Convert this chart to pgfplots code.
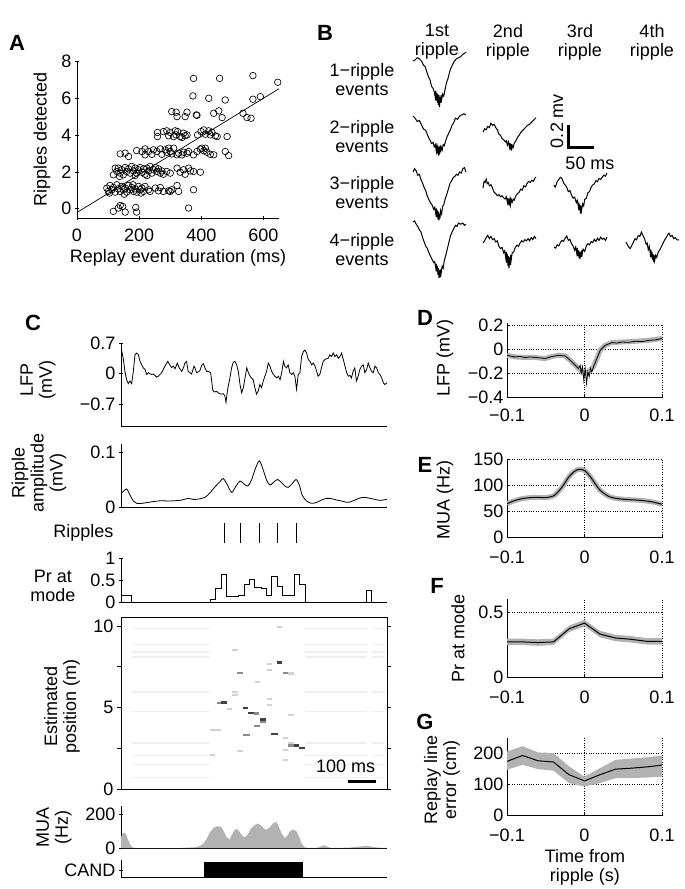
\documentclass[border=0pt]{standalone}
\usepackage{pgfplots}
\pgfplotsset{compat=1.18}
\usepackage{fontspec}
\setmainfont{Liberation Sans}
\newcommand\fs{\fontsize{18}{19}\selectfont}
\pgfplotsset{
  base/.style={scale only axis, tick label style={font=\fs}, label style={font=\fs, align=center}, axis line style={line width=0.6pt,-}, tick style={line width=0.6pt, black}},
  outtick/.style={tick align=outside, major tick length=4pt},
  wave/.style={scale only axis, hide axis, width=53pt, height=88pt, xmin=-50, xmax=50, ymin=-0.6, ymax=0.2, anchor=north west, clip=false},
  cax/.style={base, outtick, width=266pt, xmin=0, xmax=950, xtick=\empty, axis lines=left, axis line style={-}, anchor=south west},
  rax/.style={base, width=155pt, xmin=-0.1, xmax=0.1, xtick={-0.1,0,0.1}, xticklabels={−0.1,0,0.1}, axis lines=left, axis line style={-}, grid=major, grid style={dotted, line width=0.7pt, black}, tick align=inside, major tick length=3pt, anchor=south west},
}
\begin{document}
\begin{tikzpicture}[x=1pt,y=1pt]
\useasboundingbox (0,0) rectangle (685,-889);
% panel letters
\begin{scope}[font=\bfseries\fontsize{22}{24}\selectfont]
\node at (17,-43) {A};
\node at (325,-33) {B};
\node at (33,-323) {C};
\node at (425,-318) {D};
\node at (425,-465) {E};
\node at (437,-586) {F};
\node at (425,-722) {G};
\end{scope}

% ---------------- A ----------------
\begin{axis}[base, outtick, at={(77pt,-218pt)}, anchor=south west, width=202pt, height=157pt,
  xmin=0, xmax=650, ymin=-0.5, ymax=8, axis lines=left, axis line style={-},
  xtick={0,200,400,600}, xticklabels={0,200,400,600}, ytick={0,2,4,6,8}, yticklabels={0,2,4,6,8},
  xticklabel style={yshift=-5pt},
  xlabel={Replay event duration (ms)}, ylabel={Ripples detected},
  xlabel style={at={(axis description cs:0.5,-0.255)}, anchor=center},
  ylabel style={at={(axis description cs:-0.173,0.503)}, anchor=center}]
\addplot[only marks, mark=o, mark size=3.3pt, mark options={line width=0.65pt}, black] table {
x y
375 7.06
459 7.06
566 7.21
646 6.85
373 6.11
424 5.98
477 5.89
566 5.93
590 6.07
305 5.26
319 5.23
322 4.99
348 4.99
354 5.23
384 5.08
386 5.06
440 5.17
456 5.30
467 4.94
534 5.17
547 4.94
560 4.90
259 4.13
259 3.91
278 4.18
289 4.22
295 3.95
300 4.13
311 3.91
316 4.22
319 4.0
324 4.18
332 3.91
338 3.86
343 4.09
348 3.96
354 4.0
388 4.0
399 4.18
408 4.27
413 4.04
424 4.22
429 4.0
434 4.14
445 3.95
451 3.91
483 3.91
139 2.97
155 3.01
166 2.83
192 3.15
209 3.10
219 3.24
230 3.10
219 2.92
241 2.95
246 3.19
257 3.10
268 3.24
273 2.95
284 3.19
289 3.06
295 3.28
300 3.10
305 2.97
311 3.28
322 2.92
327 3.01
338 2.92
343 3.06
354 3.01
359 3.10
375 2.92
386 3.10
397 3.23
402 3.28
408 3.14
413 3.28
418 3.06
429 2.95
440 2.92
477 3.10
488 2.88
117 1.84
128 2.02
133 2.20
139 1.93
144 2.11
149 1.84
155 2.23
160 2.02
166 2.16
171 1.93
176 2.29
182 2.05
187 2.20
192 1.93
198 2.11
203 2.23
209 1.98
214 2.16
219 1.87
225 2.20
230 2.05
235 2.29
241 1.93
246 2.11
252 2.23
257 2.02
262 2.16
268 1.93
273 2.05
278 1.87
289 2.02
300 1.93
322 2.20
332 1.98
343 2.11
348 1.87
359 2.20
365 2.05
375 2.02
397 1.98
123 2.20
137 1.75
187 1.80
225 1.80
96 1.12
101 0.94
106 1.26
112 1.03
117 1.15
123 0.90
128 1.30
133 1.08
139 0.94
144 1.21
149 1.03
155 1.12
160 0.90
166 1.26
171 1.03
176 1.15
182 0.94
187 1.08
192 0.90
198 1.21
203 1.03
209 1.12
214 0.94
219 1.21
230 1.03
235 0.94
252 1.12
262 0.97
268 1.15
278 0.94
295 0.97
300 0.94
305 1.03
322 1.26
327 0.94
375 1.03
104 0.85
152 0.79
180 1.30
206 0.85
117 -0.14
133 0.04
139 0.18
147 0.13
155 -0.18
189 0.07
192 -0.18
359 0.04
};
\addplot[black, line width=0.7pt] coordinates {(0,-0.2) (650,6.5)};
\end{axis}

% ---------------- B ----------------
\begin{scope}[font=\fs]
\node[align=center] at (437,-42) {1st\\ripple};
\node[align=center] at (508,-42) {2nd\\ripple};
\node[align=center] at (580,-42) {3rd\\ripple};
\node[align=center] at (652,-42) {4th\\ripple};
\node[align=center] at (362,-80) {1−ripple\\events};
\node[align=center] at (362,-137) {2−ripple\\events};
\node[align=center] at (362,-193) {3−ripple\\events};
\node[align=center] at (362,-250) {4−ripple\\events};
\node[rotate=90] at (557,-121) {0.2 mv};
\node at (590,-163) {50 ms};
\end{scope}
\draw[line width=3pt] (568,-125) -- (568,-147) -- (594,-147);

% R1C1
\begin{axis}[wave, at={(413pt,-39pt)}]
\addplot[black, line width=1pt] coordinates {(-50,0) (-46,0.01) (-42,0.03) (-38,0.02) (-34,0.0) (-30,-0.04) (-27,-0.05) (-24,-0.10) (-21,-0.14) (-18,-0.17) (-15,-0.23) (-12,-0.25) (-10,-0.28) (-8,-0.33) (-7,-0.27) (-6,-0.36) (-5,-0.29) (-4,-0.38) (-3,-0.30) (-2,-0.40) (-1,-0.31) (0,-0.42) (1,-0.33) (2,-0.38) (3,-0.31) (4,-0.35) (6,-0.30) (8,-0.32) (10,-0.27) (13,-0.20) (16,-0.16) (19,-0.10) (22,-0.06) (25,-0.03) (28,0.0) (32,0.02) (36,0.03) (40,0.04) (44,0.06) (47,0.07) (50,0.08)};
\end{axis}
% R2C1
\begin{axis}[wave, at={(413pt,-94pt)}]
\addplot[black, line width=1pt] coordinates {(-50,0) (-46,-0.02) (-42,-0.05) (-38,-0.04) (-34,-0.08) (-30,-0.12) (-26,-0.13) (-22,-0.18) (-18,-0.22) (-15,-0.25) (-12,-0.24) (-10,-0.28) (-8,-0.26) (-6,-0.32) (-5,-0.25) (-4,-0.34) (-3,-0.27) (-2,-0.36) (-1,-0.28) (0,-0.35) (1,-0.27) (2,-0.33) (3,-0.28) (5,-0.31) (7,-0.26) (9,-0.27) (12,-0.22) (15,-0.18) (18,-0.15) (21,-0.12) (24,-0.08) (27,-0.06) (30,-0.02) (34,-0.03) (38,0.0) (42,0.01) (46,0.02) (50,0.01)};
\end{axis}
% R2C2
\begin{axis}[wave, at={(483pt,-110pt)}]
\addplot[black, line width=1pt] coordinates {(-50,0) (-47,0.03) (-44,0.02) (-41,0.05) (-38,0.04) (-35,0.08) (-32,0.06) (-29,0.07) (-26,0.04) (-23,0.02) (-20,-0.02) (-17,-0.03) (-14,-0.06) (-11,-0.07) (-8,-0.09) (-6,-0.08) (-4,-0.12) (-2,-0.09) (0,-0.14) (1,-0.10) (2,-0.16) (3,-0.11) (4,-0.17) (5,-0.12) (7,-0.14) (9,-0.10) (12,-0.08) (15,-0.05) (18,-0.03) (22,0.0) (26,0.02) (30,0.04) (34,0.06) (38,0.07) (42,0.09) (46,0.11) (50,0.13)};
\end{axis}
% R3C1
\begin{axis}[wave, at={(413pt,-150pt)}]
\addplot[black, line width=1pt] coordinates {(-50,0) (-47,0.03) (-44,0.01) (-41,-0.03) (-38,-0.02) (-35,-0.07) (-32,-0.10) (-29,-0.14) (-26,-0.17) (-23,-0.22) (-20,-0.25) (-17,-0.28) (-14,-0.30) (-11,-0.34) (-9,-0.32) (-7,-0.38) (-6,-0.33) (-5,-0.41) (-4,-0.35) (-3,-0.43) (-2,-0.36) (-1,-0.44) (0,-0.38) (1,-0.42) (2,-0.35) (4,-0.38) (6,-0.31) (8,-0.30) (11,-0.24) (14,-0.20) (17,-0.15) (20,-0.10) (23,-0.08) (26,-0.05) (29,-0.04) (32,-0.02) (35,-0.03) (38,0.0) (41,-0.01) (44,0.03) (47,0.04) (50,0.0)};
\end{axis}
% R3C2
\begin{axis}[wave, at={(483pt,-166pt)}]
\addplot[black, line width=1pt] coordinates {(-50,0) (-48,0.06) (-46,0.05) (-44,0.08) (-42,0.04) (-40,0.05) (-38,0.02) (-35,0.03) (-32,0.0) (-29,-0.04) (-26,-0.05) (-23,-0.07) (-20,-0.06) (-17,-0.08) (-14,-0.07) (-11,-0.09) (-8,-0.10) (-6,-0.08) (-4,-0.13) (-3,-0.09) (-2,-0.15) (-1,-0.10) (0,-0.16) (1,-0.11) (2,-0.15) (3,-0.10) (5,-0.13) (7,-0.10) (9,-0.11) (12,-0.07) (15,-0.05) (18,-0.04) (21,-0.01) (24,-0.02) (27,0.02) (30,0.01) (33,0.04) (36,0.06) (39,0.05) (42,0.07) (45,0.06) (48,0.09) (50,0.10)};
\end{axis}
% R3C3
\begin{axis}[wave, at={(554pt,-163pt)}]
\addplot[black, line width=1pt] coordinates {(-50,0) (-48,-0.02) (-46,0.0) (-44,0.03) (-41,0.05) (-38,0.07) (-35,0.06) (-32,0.02) (-29,0.0) (-26,-0.02) (-23,-0.06) (-20,-0.05) (-17,-0.09) (-14,-0.12) (-11,-0.11) (-8,-0.16) (-6,-0.14) (-4,-0.20) (-3,-0.16) (-2,-0.23) (-1,-0.18) (0,-0.26) (1,-0.19) (2,-0.23) (4,-0.17) (6,-0.19) (8,-0.13) (11,-0.12) (14,-0.07) (17,-0.06) (20,-0.02) (23,0.0) (26,0.01) (29,0.04) (32,0.03) (35,0.06) (38,0.05) (41,0.07) (44,0.09) (47,0.08) (50,0.11)};
\end{axis}
% R4C1
\begin{axis}[wave, at={(413pt,-200pt)}]
\addplot[black, line width=1pt] coordinates {(-50,0) (-47,0.01) (-44,-0.02) (-41,-0.04) (-38,-0.07) (-35,-0.09) (-32,-0.14) (-29,-0.18) (-26,-0.22) (-23,-0.24) (-20,-0.28) (-17,-0.31) (-14,-0.34) (-11,-0.37) (-9,-0.36) (-7,-0.42) (-6,-0.38) (-5,-0.45) (-4,-0.40) (-3,-0.48) (-2,-0.42) (-1,-0.51) (0,-0.44) (1,-0.50) (2,-0.43) (3,-0.47) (5,-0.40) (7,-0.42) (9,-0.35) (12,-0.30) (15,-0.24) (18,-0.18) (21,-0.12) (24,-0.09) (27,-0.06) (30,-0.03) (33,-0.04) (36,-0.01) (40,-0.02) (44,-0.01) (47,-0.03) (50,-0.02)};
\end{axis}
% R4C2
\begin{axis}[wave, at={(483pt,-221pt)}]
\addplot[black, line width=1pt] coordinates {(-50,0) (-47,0.02) (-44,0.05) (-41,0.07) (-38,0.04) (-35,0.06) (-32,0.03) (-29,0.04) (-26,0.01) (-23,0.02) (-20,-0.03) (-17,-0.05) (-14,-0.04) (-11,-0.09) (-9,-0.07) (-7,-0.14) (-6,-0.08) (-5,-0.18) (-4,-0.10) (-3,-0.21) (-2,-0.12) (-1,-0.23) (0,-0.13) (1,-0.20) (2,-0.11) (3,-0.16) (5,-0.09) (8,-0.08) (11,-0.04) (14,-0.02) (17,-0.03) (20,0.0) (23,0.02) (26,0.01) (29,0.03) (32,0.02) (35,0.04) (38,0.02) (41,0.05) (44,0.03) (47,0.06) (50,0.04)};
\end{axis}
% R4C3
\begin{axis}[wave, at={(554pt,-225pt)}]
\addplot[black, line width=1pt] coordinates {(-50,0) (-47,-0.01) (-44,0.02) (-41,0.01) (-38,0.04) (-35,0.06) (-32,0.05) (-29,0.08) (-26,0.10) (-23,0.06) (-20,0.07) (-17,0.03) (-14,0.01) (-11,-0.03) (-9,0.0) (-7,-0.06) (-6,-0.01) (-5,-0.08) (-4,-0.03) (-3,-0.10) (-2,-0.04) (-1,-0.11) (0,-0.05) (1,-0.09) (2,-0.03) (3,-0.07) (5,-0.02) (8,-0.04) (11,0.01) (14,0.03) (17,0.02) (20,0.05) (23,0.04) (26,0.07) (29,0.05) (32,0.08) (35,0.06) (38,0.09) (41,0.07) (44,0.08) (47,0.06) (50,0.09)};
\end{axis}
% R4C4
\begin{axis}[wave, at={(626pt,-220pt)}]
\addplot[black, line width=1pt] coordinates {(-50,0) (-47,-0.03) (-44,-0.05) (-42,-0.06) (-39,-0.03) (-36,0.0) (-33,0.03) (-30,0.02) (-27,0.06) (-24,0.05) (-21,0.09) (-18,0.06) (-15,0.03) (-12,-0.02) (-10,-0.01) (-8,-0.07) (-6,-0.04) (-4,-0.11) (-3,-0.07) (-2,-0.14) (-1,-0.09) (0,-0.16) (1,-0.11) (2,-0.18) (3,-0.12) (4,-0.17) (6,-0.12) (8,-0.14) (11,-0.09) (14,-0.07) (17,-0.04) (20,-0.01) (23,0.02) (26,0.04) (29,0.07) (31,0.08) (34,0.05) (37,0.06) (40,0.03) (43,0.04) (46,0.02) (50,0.02)};
\end{axis}

% ---------------- C ----------------
% LFP
\begin{axis}[cax, at={(121pt,-426pt)}, height=83pt, ymin=-1.2, ymax=0.7,
  ytick={-0.7,0,0.7}, yticklabels={−0.7,0,0.7},
  ylabel={LFP\\(mV)}, ylabel style={at={(axis description cs:-0.312,0.554)}, anchor=center}]
\addplot[black, line width=0.8pt] table {
t v
0 0.54
2 0.54
8 0.35
14 0.05
20 -0.14
26 -0.23
32 -0.17
38 -0.23
44 0.05
50 0.43
56 0.47
62 0.43
68 0.28
74 0.20
80 0.13
86 0.09
92 -0.02
98 0.02
104 -0.01
109 -0.02
115 -0.01
121 -0.04
127 -0.08
133 -0.06
145 0.02
157 0.17
167 0.28
175 0.19
181 0.14
187 0.17
193 0.11
201 0.24
208 0.13
217 0.05
223 0.13
228 0.24
234 0.28
240 0.05
246 0.02
252 -0.01
261 0.17
264 0.13
270 0.02
276 0.04
282 0.07
288 0.19
294 0.23
300 0.13
306 0.05
312 0.05
320 0.02
324 -0.17
327 -0.36
332 -0.42
342 -0.41
347 -0.44
353 -0.46
359 -0.47
365 -0.46
371 -0.51
375 -0.66
380 -0.40
383 -0.29
389 -0.10
395 0.13
401 0.26
407 0.28
413 0.20
419 0.05
425 -0.25
431 -0.44
437 -0.32
443 -0.10
449 0.13
455 0.02
461 -0.06
466 -0.10
472 -0.14
478 -0.32
484 -0.47
490 -0.40
496 -0.25
502 -0.32
508 -0.17
514 -0.06
520 0.05
526 0.24
532 0.17
538 0.05
544 -0.02
550 -0.06
556 -0.10
562 -0.06
568 -0.14
574 0.02
580 0.28
585 0.17
591 0.13
597 0.20
603 0.02
609 -0.02
615 0.02
621 -0.06
627 -0.36
633 -0.02
639 0.02
645 0.39
651 0.50
657 0.54
663 0.47
669 0.32
675 0.28
681 0.20
687 0.24
693 0.17
699 0.05
704 -0.06
710 -0.02
716 0.13
722 0.28
728 0.32
734 0.34
740 0.35
746 0.43
752 0.39
758 0.47
764 0.39
770 0.43
776 0.35
782 0.39
788 0.47
794 0.32
800 0.17
806 0.02
812 -0.06
818 -0.04
823 -0.10
829 0.05
835 0.13
841 -0.17
847 -0.06
853 0.09
859 0.17
865 0.20
871 0.02
877 0.09
883 0.24
889 0.13
895 0.05
901 0.02
907 0.17
913 0.13
919 0.02
925 -0.02
931 -0.10
937 -0.21
942 -0.25
950 -0.21
};
\end{axis}

% Ripple amplitude
\begin{axis}[cax, at={(121pt,-507pt)}, height=63pt, ymin=0, ymax=0.115,
  ytick={0,0.1}, yticklabels={0,0.1},
  ylabel={Ripple\\amplitude\\(mV)}, ylabel style={at={(axis description cs:-0.308,0.54)}, anchor=center}]
\addplot[black, line width=0.8pt, smooth] table {
t a
0 0.025
8 0.028
20 0.033
32 0.022
44 0.011
56 0.0067
74 0.0067
98 0.0085
121 0.0103
145 0.0115
169 0.0109
193 0.0115
217 0.0127
240 0.0158
258 0.0139
276 0.0145
300 0.0176
318 0.0261
336 0.0370
353 0.0461
365 0.0521
377 0.0430
395 0.0267
409 0.0370
425 0.0473
437 0.0430
452 0.0382
466 0.0491
478 0.0673
494 0.0842
508 0.0673
520 0.0491
532 0.0400
544 0.0448
559 0.0503
574 0.0442
588 0.0370
597 0.0358
612 0.0430
625 0.0503
637 0.0400
647 0.0218
663 0.0109
681 0.0067
699 0.0085
716 0.0127
734 0.0158
752 0.0152
770 0.0127
788 0.0109
806 0.0085
818 0.0091
835 0.0127
853 0.0164
871 0.0176
889 0.0158
907 0.0139
925 0.0121
942 0.0133
950 0.0139
};
\end{axis}

% Ripples
\node[font=\fs, anchor=east] at (117,-533) {Ripples};
\begin{axis}[scale only axis, hide axis, at={(121pt,-543pt)}, anchor=south west, width=266pt, height=20pt, xmin=0, xmax=950, ymin=0, ymax=1]
\addplot[ycomb, black, line width=0.7pt, mark=none] coordinates {(368,1) (427,1) (495,1) (559,1) (625,1)};
\end{axis}

% Pr at mode
\node[font=\fs, align=center] at (53,-586) {Pr at\\mode};
\begin{axis}[cax, at={(121pt,-602pt)}, height=44pt, ymin=0, ymax=1,
  ytick={0,0.5,1}, yticklabels={0,0.5,1}]
\addplot[const plot, black, line width=0.9pt] coordinates {(0,0.16) (38,0) (318,0.06) (336,0.30) (357,0.63) (377,0.125) (419,0.16) (440,0.40) (458,0.52) (476,0.34) (500,0.30) (520,0.14) (538,0.58) (558,0.36) (577,0.14) (619,0.63) (637,0.41) (657,0) (877,0.27) (895,0) (950,0)};
\end{axis}

% Estimated position
\begin{axis}[base, outtick, at={(121pt,-789pt)}, anchor=south west, width=266pt, height=172pt,
  xmin=0, xmax=950, ymin=0, ymax=10.55, xtick=\empty, ytick={0,2.5,5,7.5,10}, yticklabels={0,,5,,10},
  ytick pos=both, axis on top,
  ylabel={Estimated\\position (m)}, ylabel style={at={(axis description cs:-0.222,0.477)}, anchor=center}]
\addplot[black!6, line width=1.5pt, unbounded coords=jump] coordinates {
(38,9.84)(318,9.84)(318,nan)(657,9.84)(877,9.84)(877,nan)(895,9.84)(942,9.84)(942,nan)
(38,8.85)(318,8.85)(318,nan)(657,8.85)(877,8.85)(877,nan)(895,8.85)(942,8.85)(942,nan)
(38,8.40)(318,8.40)(318,nan)(657,8.40)(877,8.40)(877,nan)(895,8.40)(942,8.40)(942,nan)
(38,8.10)(318,8.10)(318,nan)(657,8.10)(877,8.10)(877,nan)(895,8.10)(942,8.10)(942,nan)
(38,5.95)(318,5.95)(318,nan)(657,5.95)(877,5.95)(877,nan)(895,5.95)(942,5.95)(942,nan)
(38,4.76)(318,4.76)(318,nan)(657,4.76)(877,4.76)(877,nan)(895,4.76)(942,4.76)(942,nan)
(38,2.82)(318,2.82)(318,nan)(657,2.82)(877,2.82)(877,nan)(895,2.82)(942,2.82)(942,nan)
(38,2.07)(318,2.07)(318,nan)(657,2.07)(877,2.07)(877,nan)(895,2.07)(942,2.07)(942,nan)
(38,1.49)(318,1.49)(318,nan)(657,1.49)(877,1.49)(877,nan)(895,1.49)(942,1.49)(942,nan)
(38,0.70)(318,0.70)(318,nan)(657,0.70)(877,0.70)(877,nan)(895,0.70)(942,0.70)(942,nan)
};
\addplot[black!18, line width=2.2pt, unbounded coords=jump] coordinates {
(377,4.89)(395,4.89)(395,nan)(597,2.84)(619,2.84)(619,nan)(395,5.95)(419,5.95)(419,nan)
(395,5.79)(419,5.79)(419,nan)(318,3.60)(357,3.60)(357,nan)(413,2.31)(437,2.31)(437,nan)
(577,1.76)(597,1.76)(597,nan)(520,7.69)(538,7.69)(538,nan)(520,7.28)(538,7.28)(538,nan)
(520,5.54)(538,5.54)(538,nan)(520,5.13)(538,5.13)(538,nan)(556,9.94)(574,9.94)(574,nan)
(597,4.52)(619,4.52)(619,nan)(577,2.37)(597,2.37)(597,nan)(577,3.13)(597,3.13)(597,nan)
(318,2.07)(336,2.07)(336,nan)(597,7.08)(619,7.08)(619,nan)(478,6.56)(496,6.56)(496,nan)
(395,8.55)(419,8.55)(419,nan)
};
\addplot[black!45, line width=2.4pt, unbounded coords=jump] coordinates {
(342,5.28)(357,5.28)(357,nan)(476,4.62)(494,4.62)(494,nan)(496,4.11)(518,4.11)(518,nan)
(476,3.87)(496,3.87)(496,nan)(437,3.33)(459,3.33)(459,nan)(577,7.12)(597,7.12)(597,nan)
(597,2.68)(619,2.68)(619,nan)(413,7.12)(437,7.12)(437,nan)
};
\addplot[black!75, line width=2.4pt, unbounded coords=jump] coordinates {
(357,5.30)(377,5.30)(377,nan)(437,4.97)(455,4.97)(455,nan)(455,4.68)(476,4.68)(476,nan)
(496,4.27)(518,4.27)(518,nan)(535,3.37)(559,3.37)(559,nan)(556,7.75)(574,7.75)(574,nan)
(619,2.68)(637,2.68)(637,nan)(637,2.52)(657,2.52)(657,nan)
};
\draw[line width=3.5pt] (axis cs:810,0.47) -- (axis cs:910,0.47);
\node[font=\fs, anchor=south east, inner sep=1pt] at (axis cs:912,0.95) {100 ms};
\end{axis}

% MUA
\begin{axis}[cax, at={(121pt,-848pt)}, height=42pt, ymin=0, ymax=250,
  ytick={0,200}, yticklabels={0,200},
  ylabel={MUA\\(Hz)}, ylabel style={at={(axis description cs:-0.252,0.5)}, anchor=center}]
\addplot[fill=black!30, draw=none] table {
t m
0 65
8 91
17 85
26 46
36 12
44 2
50 0
217 0
234 2
264 4
282 12
294 26
306 55
318 95
330 119
342 129
357 127
365 105
377 65
387 50
395 75
405 105
413 115
422 99
434 71
443 65
452 79
464 115
476 135
488 145
500 135
511 115
520 109
532 125
544 149
556 154
564 125
574 85
585 59
595 75
603 99
615 111
627 99
637 65
645 26
657 4
669 0
704 2
716 12
728 16
740 6
752 0
812 2
835 6
859 10
883 12
901 6
919 2
950 0
} \closedcycle;
\end{axis}

% CAND
\begin{axis}[cax, at={(121pt,-877pt)}, height=17pt, ymin=0, ymax=1,
  ytick={0.4}, yticklabels={CAND}]
\addplot[fill=black, draw=black] coordinates {(298,0) (298,0.85) (647,0.85) (647,0)} \closedcycle;
\end{axis}

% ---------------- D ----------------
\begin{axis}[rax, at={(507pt,-397pt)}, height=74pt, ymin=-0.4, ymax=0.22,
  ytick={-0.4,-0.2,0,0.2}, yticklabels={−0.4,−0.2,0,0.2}, xticklabel style={yshift=-8pt},
  ylabel={LFP (mV)}, ylabel style={at={(axis description cs:-0.40,0.53)}, anchor=center}]
\addplot[black!30, line width=5pt] coordinates {(-0.1,-0.050) (-0.0897,-0.064) (-0.0767,-0.069) (-0.0638,-0.069) (-0.0509,-0.078) (-0.0422,-0.061) (-0.0336,-0.050) (-0.025,-0.056) (-0.0185,-0.092) (-0.0121,-0.133) (-0.0078,-0.161) (-0.0026,-0.190) (0.0026,-0.20) (0.0078,-0.170) (0.0116,-0.147) (0.016,-0.078) (0.0203,-0.008) (0.0267,0.033) (0.0353,0.056) (0.0483,0.061) (0.0655,0.067) (0.0828,0.075) (0.1,0.090)};
\addplot[black, line width=0.8pt] coordinates {(-0.1,-0.050) (-0.095,-0.058) (-0.0897,-0.064) (-0.083,-0.060) (-0.0767,-0.069) (-0.070,-0.064) (-0.0638,-0.069) (-0.057,-0.072) (-0.0509,-0.078) (-0.046,-0.068) (-0.0422,-0.061) (-0.038,-0.057) (-0.0336,-0.050) (-0.029,-0.054) (-0.025,-0.056) (-0.0185,-0.092) (-0.0121,-0.133) (-0.0078,-0.161) (-0.0056,-0.133) (-0.0043,-0.203) (-0.0026,-0.147) (-0.0009,-0.258) (0.0009,-0.161) (0.0026,-0.286) (0.0043,-0.189) (0.006,-0.230) (0.0078,-0.161) (0.0095,-0.190) (0.0116,-0.147) (0.016,-0.078) (0.0203,-0.008) (0.0267,0.033) (0.0353,0.056) (0.042,0.052) (0.0483,0.061) (0.057,0.058) (0.0655,0.067) (0.074,0.064) (0.0828,0.075) (0.091,0.078) (0.1,0.090)};
\end{axis}

% ---------------- E ----------------
\begin{axis}[rax, at={(507pt,-537pt)}, height=78pt, ymin=0, ymax=150,
  ytick={0,50,100,150}, yticklabels={0,50,100,150}, xticklabel style={yshift=-10pt},
  ylabel={MUA (Hz)}, ylabel style={at={(axis description cs:-0.40,0.47)}, anchor=center}]
\addplot[black!30, line width=5pt, smooth] coordinates {(-0.1,64) (-0.092,69) (-0.083,73) (-0.075,75) (-0.066,76) (-0.057,76) (-0.049,76) (-0.04,79) (-0.034,87) (-0.027,100) (-0.021,114) (-0.014,125) (-0.008,130) (-0.003,130) (0.001,127) (0.007,117) (0.014,102) (0.02,90) (0.027,82) (0.033,77) (0.042,74) (0.055,72) (0.068,71) (0.081,69) (0.089,67) (0.1,63)};
\addplot[black, line width=1pt, smooth] coordinates {(-0.1,64) (-0.092,69) (-0.083,73) (-0.075,75) (-0.066,76) (-0.057,76) (-0.049,76) (-0.04,79) (-0.034,87) (-0.027,100) (-0.021,114) (-0.014,125) (-0.008,130) (-0.003,130) (0.001,127) (0.007,117) (0.014,102) (0.02,90) (0.027,82) (0.033,77) (0.042,74) (0.055,72) (0.068,71) (0.081,69) (0.089,67) (0.1,63)};
\end{axis}

% ---------------- F ----------------
\begin{axis}[rax, at={(507pt,-677pt)}, height=78pt, ymin=0, ymax=0.6,
  ytick={0,0.5}, yticklabels={0,0.5}, xticklabel style={yshift=-10pt},
  ylabel={Pr at mode}, ylabel style={at={(axis description cs:-0.316,0.5)}, anchor=center}]
\addplot[fill=black!30, draw=none] coordinates {(-0.1,0.295) (-0.08,0.295) (-0.06,0.29) (-0.04,0.295) (-0.02,0.395) (0,0.44) (0.02,0.355) (0.04,0.325) (0.06,0.315) (0.08,0.30) (0.1,0.30) (0.1,0.25) (0.08,0.25) (0.06,0.265) (0.04,0.275) (0.02,0.305) (0,0.39) (-0.02,0.345) (-0.04,0.245) (-0.06,0.24) (-0.08,0.245) (-0.1,0.245)} -- cycle;
\addplot[black, line width=1pt] coordinates {(-0.1,0.27) (-0.08,0.27) (-0.06,0.265) (-0.04,0.27) (-0.02,0.37) (0,0.415) (0.02,0.33) (0.04,0.30) (0.06,0.29) (0.08,0.275) (0.1,0.275)};
\end{axis}

% ---------------- G ----------------
\begin{axis}[rax, at={(507pt,-815pt)}, height=77.5pt, ymin=0, ymax=250,
  ytick={0,100,200}, yticklabels={0,100,200}, xticklabel style={yshift=-10pt},
  ylabel={Replay line\\error (cm)}, ylabel style={at={(axis description cs:-0.42,0.45)}, anchor=center},
  xlabel={Time from\\ripple (s)}, xlabel style={at={(axis description cs:0.503,-0.67)}, anchor=center}]
\addplot[fill=black!30, draw=none] coordinates {(-0.1,205) (-0.08,222) (-0.06,202) (-0.04,200) (-0.02,157) (0,124) (0.02,151) (0.04,178) (0.06,182) (0.08,186) (0.1,192) (0.1,124) (0.08,121) (0.06,119) (0.04,119) (0.02,103) (0,92) (-0.02,103) (-0.04,143) (-0.06,148) (-0.08,162) (-0.1,146)} -- cycle;
\addplot[black, line width=1pt] coordinates {(-0.1,173) (-0.08,192) (-0.06,175) (-0.04,171) (-0.02,130) (0,110) (0.02,130) (0.04,148) (0.06,151) (0.08,155) (0.1,161)};
\end{axis}
\end{tikzpicture}
\end{document}
